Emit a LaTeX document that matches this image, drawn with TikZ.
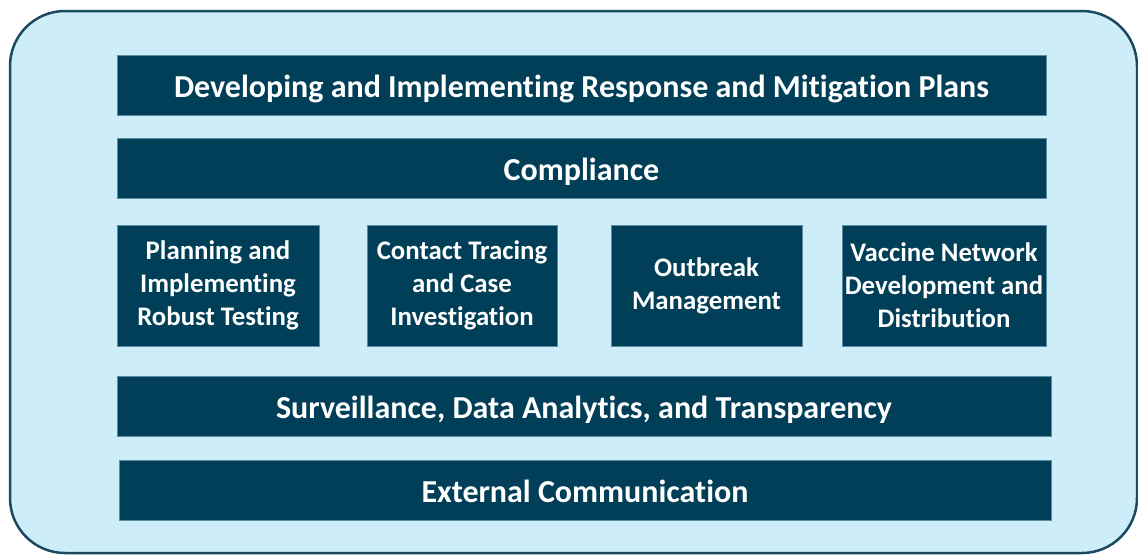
\documentclass[tikz,border=0pt]{standalone}
\usepackage{fontspec}
\setmainfont{Carlito}[Ligatures=NoCommon]
\usepackage{tikz}
\usetikzlibrary{positioning}

\definecolor{panelblue}{HTML}{CDEDF8}
\definecolor{panelline}{HTML}{1B4A60}
\definecolor{barfill}{HTML}{003F57}
\definecolor{barline}{HTML}{5B8BA0}

\tikzset{
  bar/.style={rectangle, draw=barline, line width=0.8pt, fill=barfill,
    text=white, font=\bfseries\fontsize{32}{38}\selectfont,
    inner sep=0pt, text height=26pt, text depth=2pt, minimum height=60pt},
  tile/.style={rectangle, draw=barline, line width=0.8pt, fill=barfill,
    text=white, font=\bfseries\fontsize{26.8}{33}\selectfont,
    align=center, inner sep=0pt, minimum height=121pt}
}

\begin{document}
\begin{tikzpicture}[x=1pt,y=-1pt]
\useasboundingbox (0,0) rectangle (1138,555);

% to draw the light panel
\draw [panelline, line width=2.5pt, fill=panelblue, rounded corners=55pt] (10,11) rectangle (1137,553);

% to write the full-width layers
\node [bar, minimum width=929pt] (plans) at (581.5,85) {Developing and Implementing Response and Mitigation Plans};
\node [bar, minimum width=929pt] (compliance) at (581.5,168.5) {Compliance};

% the four pillars
\node [tile, minimum width=202pt] (testing) at (218,285.5) {Planning and\\Implementing\\Robust Testing};
\node [tile, minimum width=190pt] (tracing) at (462,285.5) {Contact Tracing\\and Case\\Investigation};
\node [tile, minimum width=191pt] (outbreak) at (706.5,285.5) {Outbreak\\Management};
\node [tile, minimum width=204pt] (vaccine) at (944,285.5) {Vaccine Network\\Development and\\Distribution};

% to write the base layers
\node [bar, minimum width=934pt] (surveillance) at (584,406) {Surveillance, Data Analytics, and Transparency};
\node [bar, minimum width=932pt] (external) at (585,490) {External Communication};
\end{tikzpicture}
\end{document}
